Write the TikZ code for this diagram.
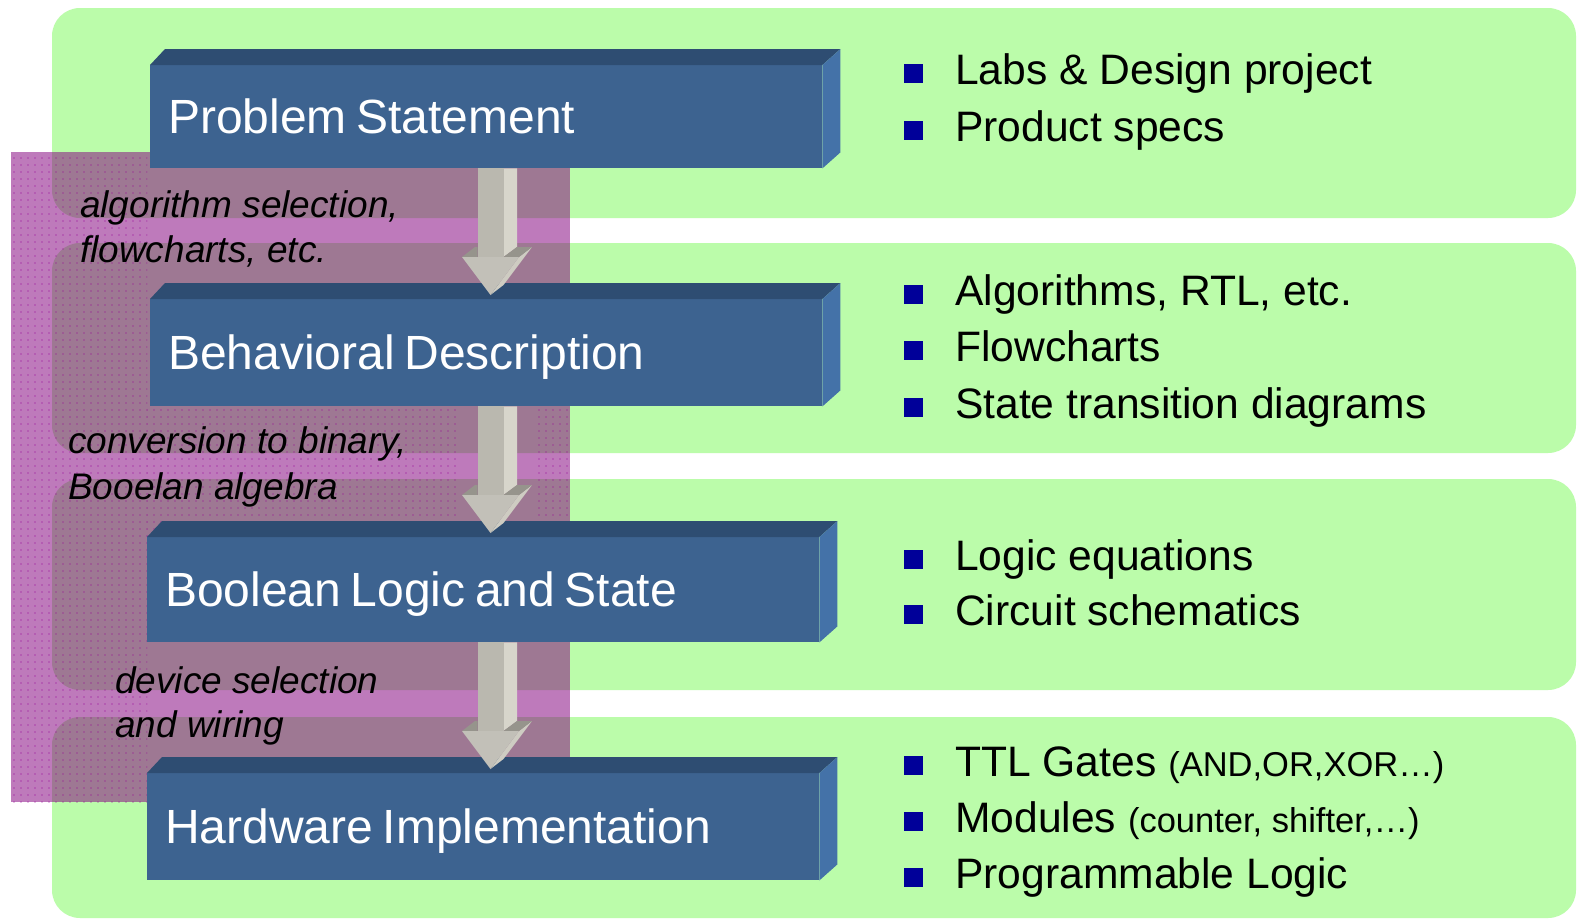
\documentclass[tikz,border=0pt]{standalone}
\usepackage{fontspec}
\setmainfont{Liberation Sans}
\usetikzlibrary{calc,patterns.meta}
\definecolor{bandgreen}{RGB}{187,252,170}
\definecolor{veilc}{RGB}{132,0,126}
\definecolor{dotc}{RGB}{150,0,150}
\definecolor{frontblue}{RGB}{61,99,144}
\definecolor{topblue}{RGB}{46,77,114}
\definecolor{sideblue}{RGB}{68,114,168}
\definecolor{arrfront}{RGB}{186,184,175}
\definecolor{arrside}{RGB}{215,213,203}
\definecolor{arrhead}{RGB}{194,192,184}
\definecolor{arrdark}{RGB}{150,148,140}
\definecolor{arrface}{RGB}{206,204,194}
\definecolor{bulletblue}{RGB}{0,0,153}
\newcommand{\boxfaces}[1]{%
  \fill[topblue] (#1.north west) -- ++(15,-16) -- ($(#1.north east)+(18,-16)$) -- (#1.north east) -- cycle;
  \fill[sideblue] (#1.north east) -- ++(18,-16) -- ($(#1.south east)+(18,-16)$) -- (#1.south east) -- cycle;}
\newcommand{\flowarrow}[2]{%
  \path let \p1=(#1.south), \p2=(#2.north) in
    coordinate (#1-t) at (490.5pt,\y1)
    coordinate (#1-h) at (490.5pt,\y2+42pt)
    coordinate (#1-k) at (490.5pt,\y2+52pt)
    coordinate (#1-p) at (490.5pt,\y2+4pt);
  \fill[arrside] ($(#1-t)+(13,0)$) -- ($(#1-t)+(26.5,0)$) -- ($(#1-k)+(26.5,0)$) -- ($(#1-h)+(13,0)$) -- cycle;
  \fill[arrface] ($(#1-h)+(28.5,0)$) -- ($(#1-k)+(41.5,0)$) -- ($(#1-p)+(13,-10)$) -- (#1-p) -- cycle;
  \fill[arrdark] ($(#1-h)+(13,0)$) -- ($(#1-k)+(26.5,0)$) -- ($(#1-k)+(41.5,0)$) -- ($(#1-h)+(28.5,0)$) -- cycle;
  \fill[arrdark] ($(#1-h)+(-28.5,0)$) -- ($(#1-k)+(-15.5,0)$) -- ($(#1-k)+(-13,0)$) -- ($(#1-h)+(-13,0)$) -- cycle;
  \fill[arrfront] ($(#1-t)+(-13,0)$) rectangle ($(#1-h)+(13,0)$);
  \fill[arrhead] ($(#1-h)+(-28.5,0)$) -- ($(#1-h)+(28.5,0)$) -- (#1-p) -- cycle;}
\newcommand{\bitem}[3]{%
  \node[sq] (#1s) at (913.5,#2-11) {};
  \node[btxt] (#1) at (955,#2) {#3};}
\newcommand{\smalltxt}[1]{{\fontsize{34.5}{40}\selectfont #1}}
\newcommand{\tightsp}{\spaceskip=0.2em\relax}
\begin{document}
\begin{tikzpicture}[x=1pt,y=-1pt,
  band/.style={fill=bandgreen, rounded corners=28pt},
  stage/.style={fill=frontblue, anchor=north west, inner xsep=18pt, inner ysep=0pt,
    text=white, font=\fontsize{48}{56}\selectfont, text height=34pt, text depth=0pt,
    align=left, text width=636pt},
  lab/.style={anchor=base west, inner sep=0pt, font=\fontsize{37}{44}\selectfont\itshape},
  btxt/.style={anchor=base west, inner sep=0pt, font=\fontsize{42.6}{50}\selectfont},
  sq/.style={fill=bulletblue, minimum size=19pt, inner sep=0pt}]
\useasboundingbox (0,0) rectangle (1577,921);
\fill[white] (0,0) rectangle (1577,921);
% green bands
\fill[band] (52,8) rectangle (1576,218);
\fill[band] (52,243) rectangle (1576,453);
\fill[band] (52,479) rectangle (1576,690);
\fill[band] (52,717) rectangle (1576,918);
% purple veil
\fill[veilc, opacity=0.52] (11,152) rectangle (570,802);
\fill[pattern={Dots[radius=0.6pt,distance=7pt]}, pattern color=dotc] (11,152) rectangle (147,802);
\fill[pattern={Dots[radius=0.6pt,distance=7pt]}, pattern color=dotc] (147,406) rectangle (458,537);
\fill[pattern={Dots[radius=0.6pt,distance=7pt]}, pattern color=dotc] (533,406) rectangle (570,537);
% stage boxes
\node[stage, minimum height=103pt] (b1) at (150,65) {\tightsp Problem Statement};
\node[stage, minimum height=107pt] (b2) at (150,299) {\tightsp Behavioral Description};
\node[stage, minimum height=105pt] (b3) at (147,537) {\tightsp Boolean Logic and State};
\node[stage, minimum height=107pt] (b4) at (147,773) {\tightsp Hardware Implementation};
\boxfaces{b1}\boxfaces{b2}\boxfaces{b3}\boxfaces{b4}
% arrows
\flowarrow{b1}{b2}
\flowarrow{b2}{b3}
\flowarrow{b3}{b4}
% arrow labels
\node[lab] (l1a) at (80,217) {algorithm selection,};
\node[lab] (l1b) at (80,262) {flowcharts, etc.};
\node[lab] (l2a) at (68,453) {conversion to binary,};
\node[lab] (l2b) at (68,499) {Booelan algebra};
\node[lab] (l3a) at (115,693) {device selection};
\node[lab] (l3b) at (115,737) {and wiring};
% bullet lists
\bitem{i11}{84}{Labs \& Design project}
\bitem{i12}{141}{Product specs}
\bitem{i21}{305}{Algorithms, RTL, etc.}
\bitem{i22}{361}{Flowcharts}
\bitem{i23}{418}{State transition diagrams}
\bitem{i31}{570}{Logic equations}
\bitem{i32}{625}{Circuit schematics}
\bitem{i41}{776}{TTL Gates \smalltxt{(AND,OR,XOR…)}}
\bitem{i42}{832}{Modules \smalltxt{(counter, shifter,…)}}
\bitem{i43}{888}{Programmable Logic}
\end{tikzpicture}
\end{document}
